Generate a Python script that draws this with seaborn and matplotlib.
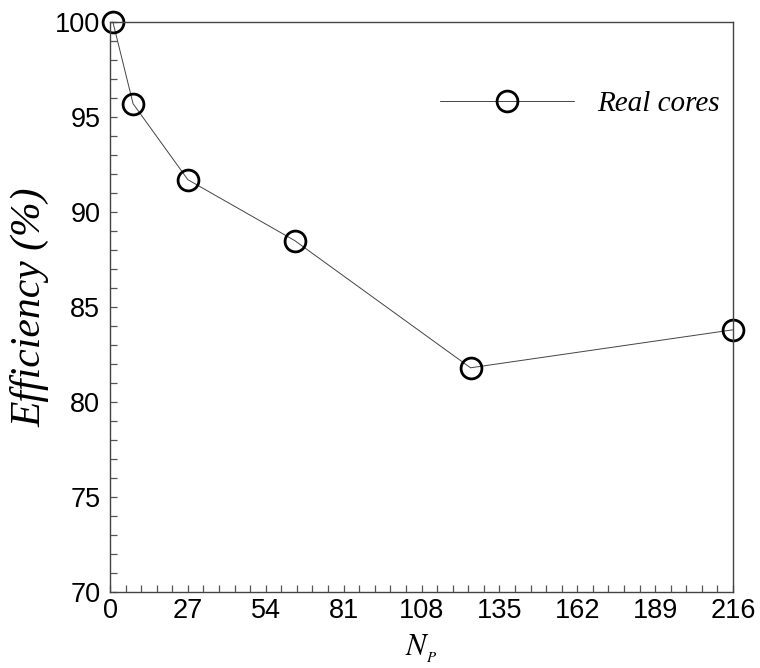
import matplotlib
matplotlib.use("Agg")
import matplotlib.pyplot as plt
from matplotlib.ticker import MultipleLocator
import seaborn as sns
import pandas as pd

# Parallel efficiency vs. number of processor cores
cores = [1, 8, 27, 64, 125, 216]
efficiency = [100.0, 95.7, 91.7, 88.5, 81.8, 83.8]
series_label = "Real cores"
x_ticks = [0, 27, 54, 81, 108, 135, 162, 189, 216]
y_ticks = [70, 75, 80, 85, 90, 95, 100]

sns.set_style("ticks")
plt.rcParams["font.family"] = ["Liberation Sans", "DejaVu Sans"]
plt.rcParams["mathtext.fontset"] = "stix"

df = pd.DataFrame({"cores": cores, "efficiency": efficiency, "series": series_label})

fig = plt.figure(figsize=(7.6, 6.68), dpi=100)
ax = fig.add_axes([110 / 760, 1 - 592 / 668, 623 / 760, 570 / 668])

sns.lineplot(data=df, x="cores", y="efficiency", hue="series",
             palette=["#444444"], linewidth=0.7, marker="o", markersize=15,
             markerfacecolor="none", markeredgecolor="black",
             markeredgewidth=2.0, ax=ax, clip_on=False)

ax.set_xlim(0, 216)
ax.set_ylim(70, 100)
ax.set_xticks(x_ticks)
ax.set_yticks(y_ticks)
ax.xaxis.set_minor_locator(MultipleLocator(5.4))
ax.yaxis.set_minor_locator(MultipleLocator(1))
ax.tick_params(axis="both", which="both", direction="in", length=5,
               width=0.9, color="#555555", top=False, right=False)
ax.tick_params(axis="both", which="major", labelsize=19.5, labelcolor="black")
ax.tick_params(axis="x", which="major", pad=4)
ax.tick_params(axis="y", which="major", pad=7)

for s in ax.spines.values():
    s.set_visible(True)
    s.set_color("#444444")
    s.set_linewidth(1.0)

ax.set_xlabel("$N_{{}_P}$", fontsize=22, labelpad=7, color="black")
ax.set_ylabel("Efficiency (%)", fontsize=30, family=["Liberation Serif"],
              style="italic", labelpad=4, color="black")

leg = ax.legend(loc="upper left", bbox_to_anchor=(0.487, 0.925), frameon=False,
                handlelength=4.6, handletextpad=0.8,
                prop={"family": "Liberation Serif", "style": "italic", "size": 21})
for t in leg.get_texts():
    t.set_color("black")

fig.savefig("out.png", dpi=100)
